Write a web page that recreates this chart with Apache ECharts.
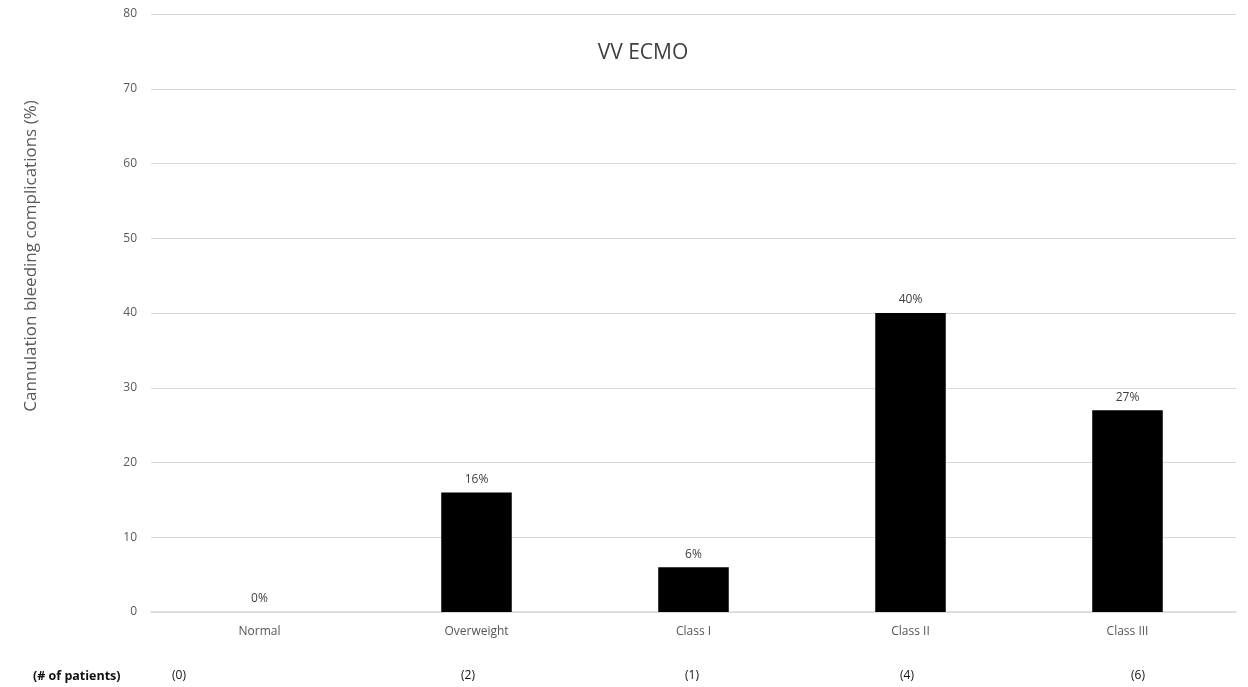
<!DOCTYPE html>
<html>
<head>
<meta charset="utf-8">
<script src="https://cdn.jsdelivr.net/npm/echarts@6/dist/echarts.min.js"></script>
<style>
  html, body { margin: 0; padding: 0; background: #fff; }
  #chart { width: 1248px; height: 687px; }
</style>
</head>
<body>
<div id="chart"></div>
<script>
// BMI groups and bleeding complication rates (%)
const categories = ['Normal', 'Overweight', 'Class I', 'Class II', 'Class III'];
const bleedingPct = [0, 16, 6, 40, 27];
const patientCounts = [0, 2, 1, 4, 6];
const yTicks = { min: 0, max: 80, interval: 10 };
const yAxisTitle = 'Cannulation bleeding complications (%)';

const FONT = '"Open Sans", "Liberation Sans", sans-serif';

// x positions of the patient-count row under the axis
const countX = [179, 468, 692, 907, 1138];

const chart = echarts.init(document.getElementById('chart'));

const graphics = [
  {
    type: 'text',
    x: 31,
    y: 256,
    rotation: Math.PI / 2,
    style: {
      text: yAxisTitle,
      font: '17px ' + FONT,
      fill: '#595959',
      align: 'center',
      verticalAlign: 'middle'
    }
  },
  {
    type: 'text',
    x: 33,
    y: 676,
    style: {
      text: '(# of patients)',
      font: 'bold 12.5px ' + FONT,
      fill: '#111',
      verticalAlign: 'middle'
    }
  }
].concat(patientCounts.map((n, i) => ({
  type: 'text',
  x: countX[i],
  y: 676,
  style: {
    text: '(' + n + ')',
    font: '12px ' + FONT,
    fill: '#111',
    align: 'center',
    verticalAlign: 'middle'
  }
})));

chart.setOption({
  animation: false,
  backgroundColor: '#fff',
  title: {
    text: 'VV ECMO',
    left: 638,
    top: 38,
    textAlign: 'center',
    textStyle: { fontFamily: FONT, fontSize: 21, fontWeight: 'normal', color: '#404040' }
  },
  grid: { left: 151, right: 12, top: 14, bottom: 75, containLabel: false },
  xAxis: {
    type: 'category',
    data: categories,
    axisLine: { lineStyle: { color: '#d9d9d9', width: 1.5 } },
    axisTick: { show: false },
    axisLabel: { fontFamily: FONT, fontSize: 12, color: '#555', margin: 14 }
  },
  yAxis: {
    type: 'value',
    min: yTicks.min,
    max: yTicks.max,
    interval: yTicks.interval,
    axisLine: { show: false },
    axisTick: { show: false },
    axisLabel: { fontFamily: FONT, fontSize: 12, color: '#595959', margin: 14 },
    splitLine: { lineStyle: { color: '#d9d9d9', width: 1.2 } }
  },
  series: [{
    type: 'bar',
    data: bleedingPct,
    barWidth: '32.5%',
    itemStyle: { color: '#000' },
    label: {
      show: true,
      position: 'top',
      distance: 7,
      formatter: p => p.value + '%',
      fontFamily: FONT,
      fontSize: 12,
      color: '#404040'
    }
  }],
  graphic: graphics
});
</script>
</body>
</html>
